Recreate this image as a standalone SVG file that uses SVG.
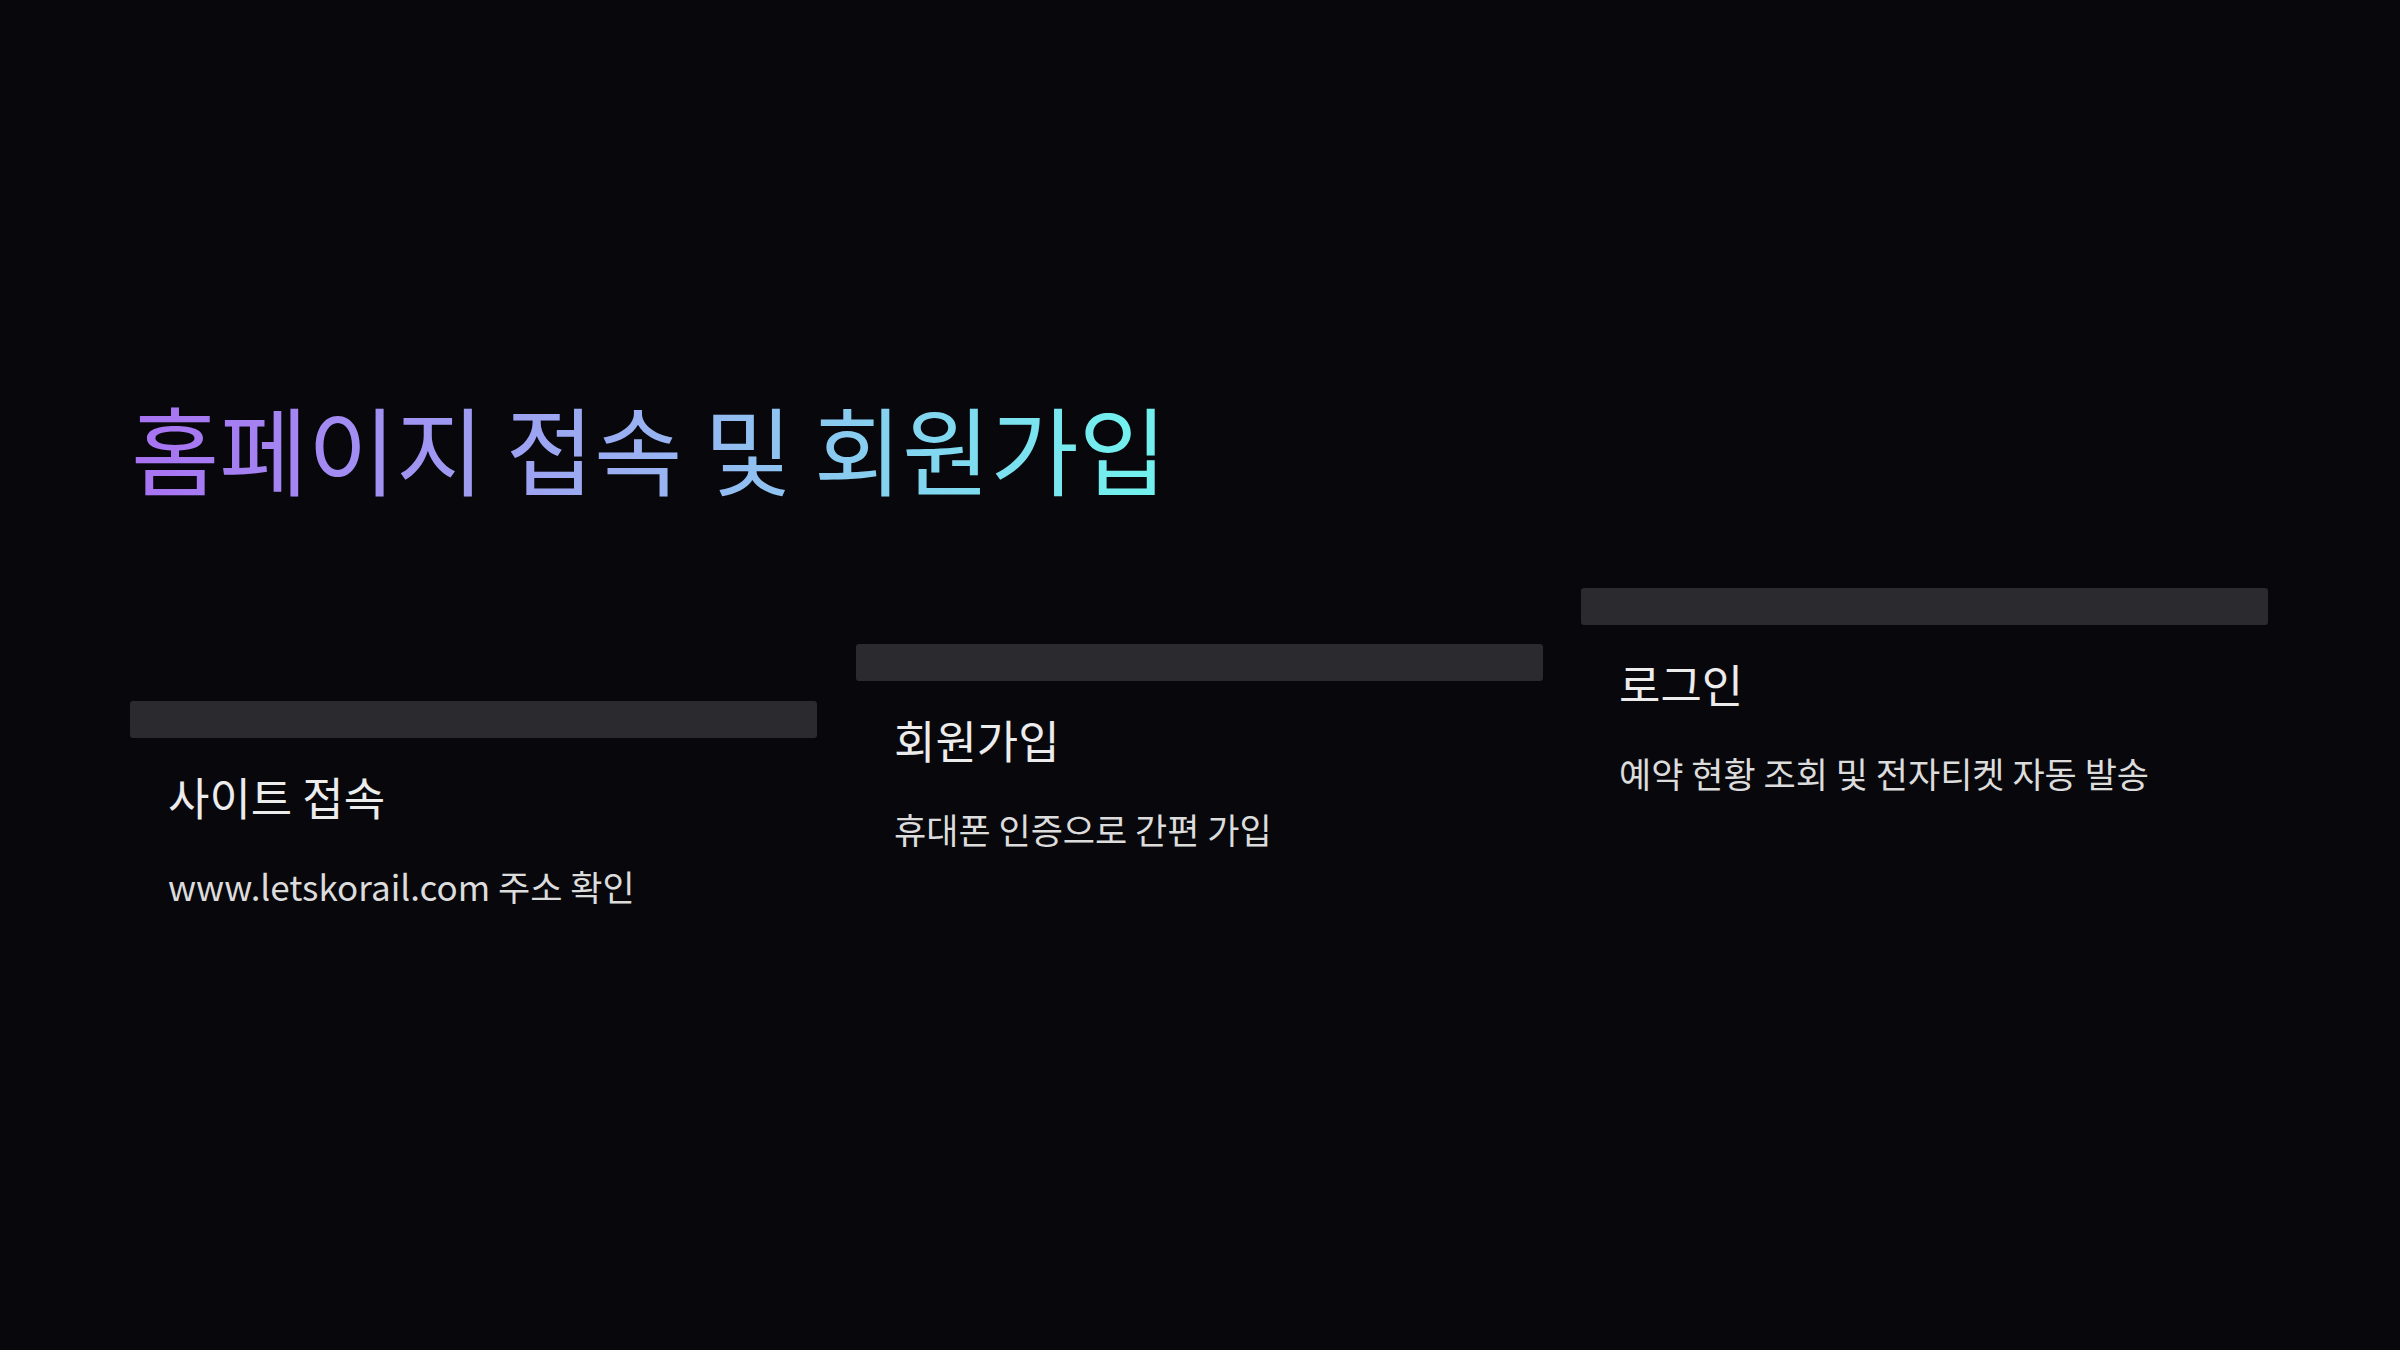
<svg xmlns="http://www.w3.org/2000/svg" width="2400" height="1350" viewBox="0 0 2400 1350">
<defs>
<linearGradient id="tg" x1="133" y1="0" x2="1130" y2="0" gradientUnits="userSpaceOnUse">
<stop offset="0" stop-color="#a872f2"/><stop offset="0.5" stop-color="#9ab0f2"/><stop offset="1" stop-color="#72f0ee"/>
</linearGradient>
<style>
text{font-family:"Noto Sans CJK KR","Noto Sans",sans-serif;}
.bar{fill:#2a2a2f;}
.h{fill:#ececec;font-size:45px;}
.s{fill:#dcdcdc;font-size:35px;}
</style>
</defs>
<rect width="2400" height="1350" fill="#08080c"/>
<text x="131" y="488" font-size="96" fill="url(#tg)">홈페이지 접속 및 회원가입</text>
<g id="step1"><rect class="bar" x="130" y="701" width="687" height="37" rx="3"/><text class="h" x="168" y="816">사이트 접속</text><text class="s" x="168" y="901">www.letskorail.com 주소 확인</text></g>
<g id="step2"><rect class="bar" x="856" y="644" width="687" height="37" rx="3"/><text class="h" x="894" y="759">회원가입</text><text class="s" x="894" y="844">휴대폰 인증으로 간편 가입</text></g>
<g id="step3"><rect class="bar" x="1581" y="588" width="687" height="37" rx="3"/><text class="h" x="1619" y="703">로그인</text><text class="s" x="1619" y="788">예약 현황 조회 및 전자티켓 자동 발송</text></g>
<g id="connectors"/>
</svg>
